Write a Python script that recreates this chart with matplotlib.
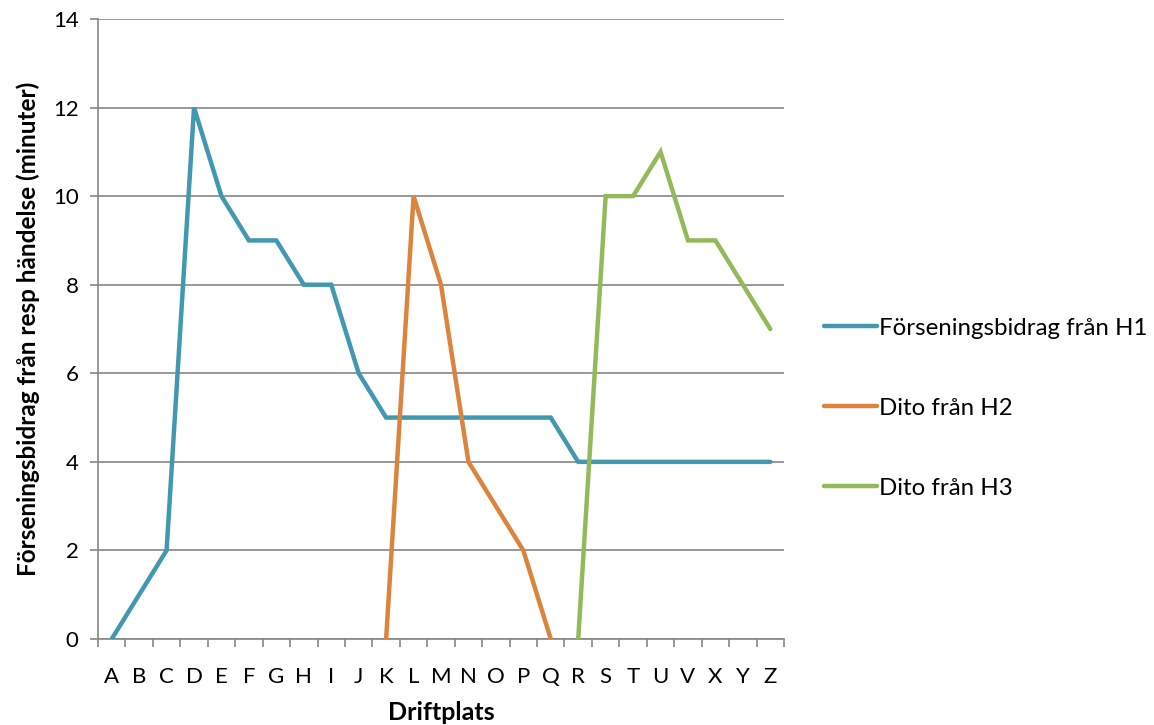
import numpy as np
import matplotlib
matplotlib.use("Agg")
import matplotlib.pyplot as plt
from matplotlib.lines import Line2D

plt.rcParams['font.family'] = ['Lato', 'DejaVu Sans']

categories = list("ABCDEFGHIJKLMNOPQRSTUVXYZ")
h1 = [0, 1, 2, 12, 10, 9, 9, 8, 8, 6, 5, 5, 5, 5, 5, 5, 5, 4, 4, 4, 4, 4, 4, 4, 4]
h2 = [None] * 10 + [0, 10, 8, 4, 3, 2, 0] + [None] * 8
h3 = [None] * 17 + [0, 10, 10, 11, 9, 9, 8, 7]

labels = ["Förseningsbidrag från H1", "Dito från H2", "Dito från H3"]
colors = ["#4198AF", "#DB843D", "#93B95A"]

def to_arr(vals):
    return np.array([np.nan if v is None else v for v in vals], dtype=float)

fig = plt.figure(figsize=(11.54, 7.25), dpi=100)
ax = fig.add_axes([0.0849, 0.1186, 0.5945, 0.8552])

x = np.arange(len(categories))
for vals, c in zip([h1, h2, h3], colors):
    ax.plot(x, to_arr(vals), color=c, lw=3.2, solid_capstyle='round', solid_joinstyle='miter', zorder=3)

ax.set_xlim(-0.5, len(categories) - 0.5)
ax.set_ylim(0, 14)
ax.set_yticks(np.arange(0, 15, 2))
ax.set_xticks(x)
ax.set_xticklabels(categories)
ax.set_xticks(np.arange(-0.5, len(categories), 1), minor=True)
ax.tick_params(axis='x', which='major', length=0, pad=20, labelsize=16)
ax.tick_params(axis='x', which='minor', length=6, color='#868686', width=1.2)
ax.tick_params(axis='y', length=6, color='#868686', width=1.2, labelsize=16, pad=8)

ax.grid(axis='y', color='#868686', lw=1.2, zorder=0)
for s in ['top', 'right']:
    ax.spines[s].set_visible(False)
for s in ['left', 'bottom']:
    ax.spines[s].set_color('#868686')
    ax.spines[s].set_linewidth(1.2)

ax.set_xlabel("Driftplats", fontsize=18, fontweight='bold', labelpad=10)
ax.set_ylabel("Förseningsbidrag från resp händelse (minuter)", fontsize=17.5, fontweight='bold', labelpad=9)

handles = [Line2D([0], [0], color=c, lw=3.2, solid_capstyle='round') for c in colors]
fig.legend(handles, labels, loc='center left', bbox_to_anchor=(0.6955, 0.437),
           frameon=False, fontsize=17.3, handlelength=2.2, handletextpad=0.1,
           labelspacing=2.45)

fig.savefig("out.png", dpi=100)
